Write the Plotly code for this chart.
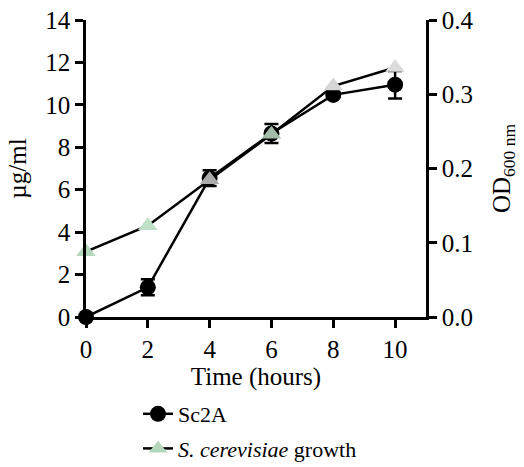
import plotly.graph_objects as go

# Sampling times (hours)
time_h = [0, 2, 4, 6, 8, 10]

# Sc2A concentration (µg/ml) with standard deviation
sc2a = [0.0, 1.4, 6.55, 8.65, 10.47, 10.95]
sc2a_err = [0.0, 0.38, 0.37, 0.45, 0.12, 0.65]

# S. cerevisiae growth (OD600)
od600 = [0.088, 0.123, 0.185, 0.246, 0.311, 0.336]
od_colors = ["#b3d6bd", "#bfe0c6", "#ababab", "#a3bcaa", "#d6d6d6", "#dcdcdc"]

x_ticks = [0, 2, 4, 6, 8, 10]
left_ticks = [0, 2, 4, 6, 8, 10, 12, 14]
right_ticks = [0.0, 0.1, 0.2, 0.3, 0.4]

FONT = "Liberation Serif, 'Times New Roman', serif"

fig = go.Figure()

fig.add_trace(go.Scatter(
    x=time_h, y=od600, yaxis="y2", name="<i>S. cerevisiae</i> growth",
    mode="lines+markers", legendgroup="b", legendrank=2,
    line=dict(color="black", width=2.5),
    marker=dict(symbol="triangle-up", size=17, color=od_colors, line=dict(width=0)),
    cliponaxis=False,
))

fig.add_trace(go.Scatter(
    x=time_h, y=sc2a, name="Sc2A",
    mode="lines+markers", legendgroup="a", legendrank=1,
    line=dict(color="black", width=2.5),
    marker=dict(symbol="circle", size=16, color="black"),
    error_y=dict(type="data", array=sc2a_err, visible=True,
                 color="black", thickness=2.5, width=7),
    cliponaxis=False,
))

axis_common = dict(
    showline=True, linecolor="black", linewidth=2.5,
    ticks="outside", ticklen=8, tickwidth=2.5, tickcolor="black",
    showgrid=False, zeroline=False, tickangle=0, automargin=False,
    tickfont=dict(family=FONT, size=25, color="black"),
)

fig.update_layout(
    width=524, height=467,
    margin=dict(l=86, r=98, t=20, b=150, autoexpand=False),
    paper_bgcolor="white", plot_bgcolor="white",
    font=dict(family=FONT, color="black", size=25),
    xaxis=dict(
        range=[0, 11], tickvals=x_ticks, ticktext=[str(v) for v in x_ticks],
        title=dict(text="Time (hours)", font=dict(family=FONT, size=25), standoff=0),
        **axis_common,
    ),
    yaxis=dict(
        range=[0, 14], tickvals=left_ticks, ticktext=[str(v) for v in left_ticks],
        title=dict(text="µg/ml", font=dict(family=FONT, size=25), standoff=12),
        **axis_common,
    ),
    yaxis2=dict(
        range=[0, 0.4], tickvals=right_ticks, ticktext=[f"{v:.1f}" for v in right_ticks],
        overlaying="y", side="right", anchor="x",
        title=dict(text="OD<sub>600 nm</sub>", font=dict(family=FONT, size=25), standoff=20),
        **axis_common,
    ),
    showlegend=True,
    legend=dict(
        x=(138 - 86) / 340, xref="paper", y=-(393 - 317) / 297, yref="paper",
        xanchor="left", yanchor="top",
        font=dict(family=FONT, size=22, color="black"),
        traceorder="grouped", tracegroupgap=3,
        bgcolor="rgba(0,0,0,0)",
    ),
)

fig.write_html("out.html")
